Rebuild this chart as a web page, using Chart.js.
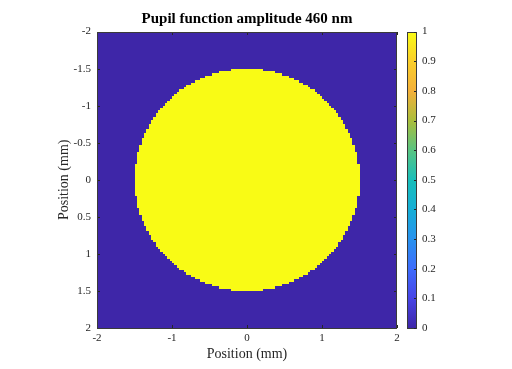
<!DOCTYPE html>
<html>
<head>
<meta charset="utf-8">
<script src="https://cdn.jsdelivr.net/npm/chart.js@4.4.0/dist/chart.umd.min.js"></script>
<style>
  html, body { margin: 0; padding: 0; background: #fff; }
  #pupil { display: block; }
</style>
</head>
<body>
<canvas id="pupil" width="512" height="369"></canvas>
<script>
// grid: 128 x 128 cells over -2..2 mm
const gridRange = [-2, 2];
const gridCells = 128;
// number of "on" cells each side of the centre, per row, from the centre row outwards
// (mirrored for the other half of the pupil)
const rowHalfWidths = [
  48, 48, 48, 48, 48, 48, 48, 47, 47, 47, 47, 47, 46, 46, 46, 45,
  45, 45, 44, 44, 43, 43, 42, 42, 41, 41, 40, 39, 39, 38, 37, 36,
  35, 34, 33, 32, 31, 30, 29, 27, 26, 24, 22, 20, 18, 15, 12, 7
];
const insideAmplitude = 1;
const outsideAmplitude = 0;

const xTickValues = [-2, -1, 0, 1, 2];
const yTickValues = [-2, -1.5, -1, -0.5, 0, 0.5, 1, 1.5, 2];
const cbTickValues = [0, 0.1, 0.2, 0.3, 0.4, 0.5, 0.6, 0.7, 0.8, 0.9, 1];

// parula-ish colormap
const parula = [
  [0.0, [62, 38, 168]],
  [0.1, [71, 68, 230]],
  [0.2, [62, 108, 252]],
  [0.3, [40, 146, 238]],
  [0.4, [22, 174, 214]],
  [0.5, [24, 190, 186]],
  [0.6, [88, 196, 130]],
  [0.7, [170, 190, 60]],
  [0.8, [244, 176, 58]],
  [0.9, [250, 206, 42]],
  [1.0, [249, 251, 21]]
];

function colorAt(v) {
  for (let i = 1; i < parula.length; i++) {
    if (v <= parula[i][0]) {
      const [v0, c0] = parula[i - 1];
      const [v1, c1] = parula[i];
      const t = (v - v0) / (v1 - v0);
      const c = c0.map((a, k) => Math.round(a + (c1[k] - a) * t));
      return `rgb(${c[0]},${c[1]},${c[2]})`;
    }
  }
  const c = parula[parula.length - 1][1];
  return `rgb(${c[0]},${c[1]},${c[2]})`;
}

const axisColor = '#262626';
const fontFamily = '"Liberation Serif", "DejaVu Serif", serif';

const pupilImage = {
  id: 'pupilImage',
  beforeDatasetsDraw(chart) {
    const { ctx, scales: { x, y, cb } } = chart;
    const step = (gridRange[1] - gridRange[0]) / gridCells;
    const px = v => Math.round(x.getPixelForValue(v));
    const py = v => Math.round(y.getPixelForValue(v));

    ctx.save();
    // background (amplitude 0)
    ctx.fillStyle = colorAt(outsideAmplitude);
    ctx.fillRect(px(gridRange[0]), py(gridRange[0]),
      px(gridRange[1]) - px(gridRange[0]), py(gridRange[1]) - py(gridRange[0]));

    // pupil rows (amplitude 1)
    ctx.fillStyle = colorAt(insideAmplitude);
    rowHalfWidths.forEach((n, j) => {
      const x0 = px(-n * step), x1 = px(n * step);
      [1, -1].forEach(sign => {
        const ya = py(sign * j * step), yb = py(sign * (j + 1) * step);
        ctx.fillRect(x0, Math.min(ya, yb), x1 - x0, Math.abs(yb - ya));
      });
    });

    // axes box with inward ticks
    const l = px(gridRange[0]), r = px(gridRange[1]);
    const t = py(gridRange[0]), b = py(gridRange[1]);
    ctx.strokeStyle = axisColor;
    ctx.lineWidth = 1;
    ctx.beginPath();
    xTickValues.forEach(v => {
      const p = px(v) + 0.5;
      ctx.moveTo(p, b); ctx.lineTo(p, b - 3);
      ctx.moveTo(p, t); ctx.lineTo(p, t + 3);
    });
    yTickValues.forEach(v => {
      const p = py(v) + 0.5;
      ctx.moveTo(l, p); ctx.lineTo(l + 3, p);
      ctx.moveTo(r, p); ctx.lineTo(r - 3, p);
    });
    ctx.stroke();
    ctx.strokeStyle = '#3a3a3a';
    ctx.strokeRect(l + 0.5, t + 0.5, r - l - 1, b - t);

    // colorbar
    const cbL = cb.left + 10, cbW = 10;
    const c0 = Math.round(cb.getPixelForValue(0)), c1 = Math.round(cb.getPixelForValue(1));
    const grad = ctx.createLinearGradient(0, c0, 0, c1);
    parula.forEach(([v]) => grad.addColorStop(v, colorAt(v)));
    ctx.fillStyle = grad;
    ctx.fillRect(cbL, c1, cbW, c0 - c1);
    ctx.strokeStyle = '#3a3a3a';
    ctx.strokeRect(cbL + 0.5, c1 + 0.5, cbW - 1, c0 - c1);
    ctx.strokeStyle = axisColor;
    ctx.beginPath();
    cbTickValues.forEach(v => {
      const p = Math.round(cb.getPixelForValue(v)) + 0.5;
      ctx.moveTo(cbL + cbW - 1, p); ctx.lineTo(cbL + cbW - 3, p);
    });
    ctx.stroke();
    ctx.restore();
  }
};

const tickFont = { family: fontFamily, size: 11 };
const labelFont = { family: fontFamily, size: 14 };

new Chart(document.getElementById('pupil'), {
  type: 'scatter',
  data: {
    datasets: [{
      label: 'Pupil function amplitude',
      data: [],
      pointRadius: 0
    }]
  },
  plugins: [pupilImage],
  options: {
    responsive: false,
    animation: false,
    events: [],
    layout: { padding: 0 },
    plugins: {
      legend: { display: false },
      tooltip: { enabled: false },
      title: {
        display: true,
        fullSize: false,
        text: 'Pupil function amplitude 460 nm',
        color: '#000',
        font: { family: fontFamily, size: 15, weight: 'bold' },
        padding: { top: 7, bottom: 3 }
      }
    },
    scales: {
      x: {
        type: 'linear',
        position: 'bottom',
        min: gridRange[0],
        max: gridRange[1],
        afterBuildTicks: s => { s.ticks = xTickValues.map(v => ({ value: v })); },
        afterFit: s => { s.height = 41; },
        grid: { display: false, drawTicks: false },
        border: { display: false },
        ticks: { font: tickFont, color: axisColor, padding: 4, maxRotation: 0, autoSkip: false, callback: v => String(v) },
        title: { display: true, text: 'Position (mm)', font: labelFont, color: axisColor, padding: { top: 0, bottom: 6 } }
      },
      y: {
        type: 'linear',
        position: 'left',
        reverse: true,
        min: gridRange[0],
        max: gridRange[1],
        afterBuildTicks: s => { s.ticks = yTickValues.map(v => ({ value: v })); },
        afterFit: s => { s.width = 97; },
        grid: { display: false, drawTicks: false },
        border: { display: false },
        ticks: { font: tickFont, color: axisColor, padding: 6, autoSkip: false, callback: v => String(v) },
        title: { display: true, text: 'Position (mm)', font: labelFont, color: axisColor, padding: { top: 56, bottom: 0 } }
      },
      cb: {
        type: 'linear',
        position: 'right',
        min: 0,
        max: 1,
        afterBuildTicks: s => { s.ticks = cbTickValues.map(v => ({ value: v })); },
        afterFit: s => { s.width = 115; },
        grid: { display: false, drawTicks: false },
        border: { display: false },
        ticks: { font: tickFont, color: axisColor, padding: 25, autoSkip: false, callback: v => String(v) }
      }
    }
  }
});
</script>
</body>
</html>
